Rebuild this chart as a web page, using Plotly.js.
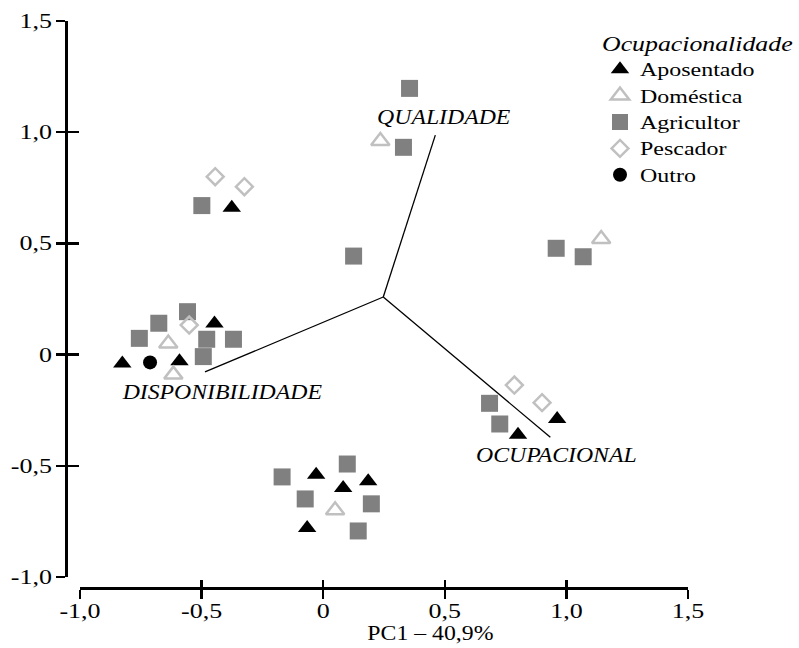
<!DOCTYPE html>
<html>
<head>
<meta charset="utf-8">
<script src="https://cdn.plot.ly/plotly-3.0.1.min.js"></script>
<style>
  html, body { margin: 0; padding: 0; background: #fff; }
  #chart { width: 799px; height: 648px; }
</style>
</head>
<body>
<div id="chart"></div>
<script>
// PCA scores by occupation group
const aposentadoX = [-0.826, -0.591, -0.447, -0.376, -0.029, 0.082, 0.185, -0.066, 0.962, 0.801];
const aposentadoY = [-0.04, -0.03, 0.14, 0.66, -0.54, -0.60, -0.57, -0.78, -0.29, -0.36];

const domesticaX = [-0.637, -0.616, 0.049, 0.235, 1.143];
const domesticaY = [0.05, -0.09, -0.70, 0.96, 0.52];

const agricultorX = [-0.558, -0.676, -0.756, -0.479, -0.369, -0.493, -0.499, 0.355, 0.330, 0.125,
                     0.958, 1.069, 0.684, 0.726, -0.169, 0.099, -0.074, 0.198, 0.144];
const agricultorY = [0.193, 0.141, 0.073, 0.069, 0.069, -0.009, 0.670, 1.197, 0.932, 0.443,
                     0.478, 0.440, -0.219, -0.312, -0.550, -0.492, -0.649, -0.671, -0.793];

const pescadorX = [-0.551, -0.444, -0.324, 0.786, 0.900];
const pescadorY = [0.133, 0.800, 0.755, -0.137, -0.216];

const outroX = [-0.712];
const outroY = [-0.035];

// Variable loadings (biplot vectors), drawn from a common centre
const vectorNames = ['QUALIDADE', 'DISPONIBILIDADE', 'OCUPACIONAL'];
const vectorOrigin = [0.247, 0.259];
const vectorEndX = [0.461, -0.486, 0.934];
const vectorEndY = [0.987, -0.078, -0.372];
const vectorLabelX = [0.498, -0.418, 0.959];
const vectorLabelY = [1.072, -0.164, -0.451];

const tickVals = [-1, -0.5, 0, 0.5, 1, 1.5];
const tickText = ['-1,0', '-0,5', '0', '0,5', '1,0', '1,5'];
const xTitle = 'PC1 – 40,9%';
const legendTitle = 'Ocupacionalidade';

const FONT = '"Liberation Serif", "Times New Roman", Times, serif';

// vector segments, separated by gaps
const segX = [], segY = [];
vectorEndX.forEach((ex, i) => {
  segX.push(vectorOrigin[0], ex, null);
  segY.push(vectorOrigin[1], vectorEndY[i], null);
});

const traces = [
  { x: segX, y: segY, mode: 'lines', line: { color: '#000', width: 1.3 },
    showlegend: false, hoverinfo: 'skip' },
  { name: 'Aposentado', x: aposentadoX, y: aposentadoY, mode: 'markers',
    marker: { symbol: 'triangle-up', size: 16, color: '#000' } },
  { name: 'Doméstica', x: domesticaX, y: domesticaY, mode: 'markers',
    marker: { symbol: 'triangle-up-open', size: 16, color: '#c0c0c0', line: { width: 2.5, color: '#c0c0c0' } } },
  { name: 'Agricultor', x: agricultorX, y: agricultorY, mode: 'markers',
    marker: { symbol: 'square', size: 17, color: '#808080' } },
  { name: 'Pescador', x: pescadorX, y: pescadorY, mode: 'markers',
    marker: { symbol: 'diamond-open', size: 13, color: '#c0c0c0', line: { width: 2.5, color: '#c0c0c0' } } },
  { name: 'Outro', x: outroX, y: outroY, mode: 'markers',
    marker: { symbol: 'circle', size: 14, color: '#000' } },
  // empty trace that creates the overlay subplot carrying the inner tick halves
  { x: [], y: [], xaxis: 'x2', yaxis: 'y2', showlegend: false, hoverinfo: 'skip' }
];

const W = 799, H = 648;
const mL = 66, mR = 111, mT = 21, mB = 60;
const pw = W - mL - mR, ph = H - mT - mB;
const xDom = [14 / pw, 1];
const yDom = [11 / ph, 1];

const baseAxis = {
  range: [-1, 1.5], tickvals: tickVals, ticktext: tickText,
  showline: true, linecolor: '#000', linewidth: 2.5,
  ticks: 'outside', ticklen: 9, tickwidth: 2.5, tickcolor: '#000',
  showgrid: false, zeroline: false, anchor: 'free', position: 0,
  tickfont: { family: FONT, size: 20, color: '#000' }, fixedrange: true
};

const layout = {
  width: W, height: H,
  margin: { l: mL, r: mR, t: mT, b: mB, autoexpand: false },
  paper_bgcolor: '#fff', plot_bgcolor: '#fff',
  font: { family: FONT, color: '#000' },
  xaxis: Object.assign({}, baseAxis, { domain: xDom, ticklabelstandoff: -5 }),
  yaxis: Object.assign({}, baseAxis, { domain: yDom }),
  xaxis2: Object.assign({}, baseAxis, { domain: xDom, overlaying: 'x', matches: 'x',
    ticks: 'inside', ticklen: 8, showticklabels: false, showline: false }),
  yaxis2: Object.assign({}, baseAxis, { domain: yDom, overlaying: 'y', matches: 'y',
    ticks: 'inside', ticklen: 12, showticklabels: false, showline: false }),
  showlegend: true,
  legend: {
    x: (600 - mL) / pw, y: (588 - 25) / ph, xanchor: 'left', yanchor: 'top',
    bgcolor: 'rgba(0,0,0,0)', borderwidth: 0,
    font: { family: FONT, size: 18, color: '#000' },
    title: { text: '<i>' + legendTitle + '</i>', side: 'top',
             font: { family: FONT, size: 20, color: '#000' } },
    tracegroupgap: 0, itemwidth: 30
  },
  annotations: vectorNames.map((n, i) => ({
    x: vectorLabelX[i], y: vectorLabelY[i], xref: 'x', yref: 'y',
    text: '<i>' + n + '</i>', showarrow: false,
    font: { family: FONT, size: 22, color: '#000' },
    xanchor: 'center', yanchor: 'middle'
  })).concat([{
    x: 0.44, y: (588 - 632) / ph, xref: 'x', yref: 'paper',
    text: xTitle, showarrow: false, xanchor: 'center', yanchor: 'middle',
    font: { family: FONT, size: 22, color: '#000' }
  }])
};

// widen the serif lettering horizontally (keeps each text's anchor point)
function widen(root, selector, k) {
  root.querySelectorAll(selector).forEach(t => {
    const len = t.getComputedTextLength();
    if (len > 0) {
      t.setAttribute('lengthAdjust', 'spacingAndGlyphs');
      t.setAttribute('textLength', (len * k).toFixed(2));
    }
  });
}

Plotly.newPlot('chart', traces, layout, { displayModeBar: false, staticPlot: true })
  .then(gd => {
    widen(gd, '.xtick text, .ytick text', 1.3);
    widen(gd, '.legendtext', 1.33);
    widen(gd, '.legendtitletext', 1.29);
    widen(gd, '.annotation-text', 1.08);
    // let the widened legend text run past the legend's own clip box
    gd.querySelectorAll('.legend [clip-path]').forEach(el => el.removeAttribute('clip-path'));
  });
</script>
</body>
</html>
